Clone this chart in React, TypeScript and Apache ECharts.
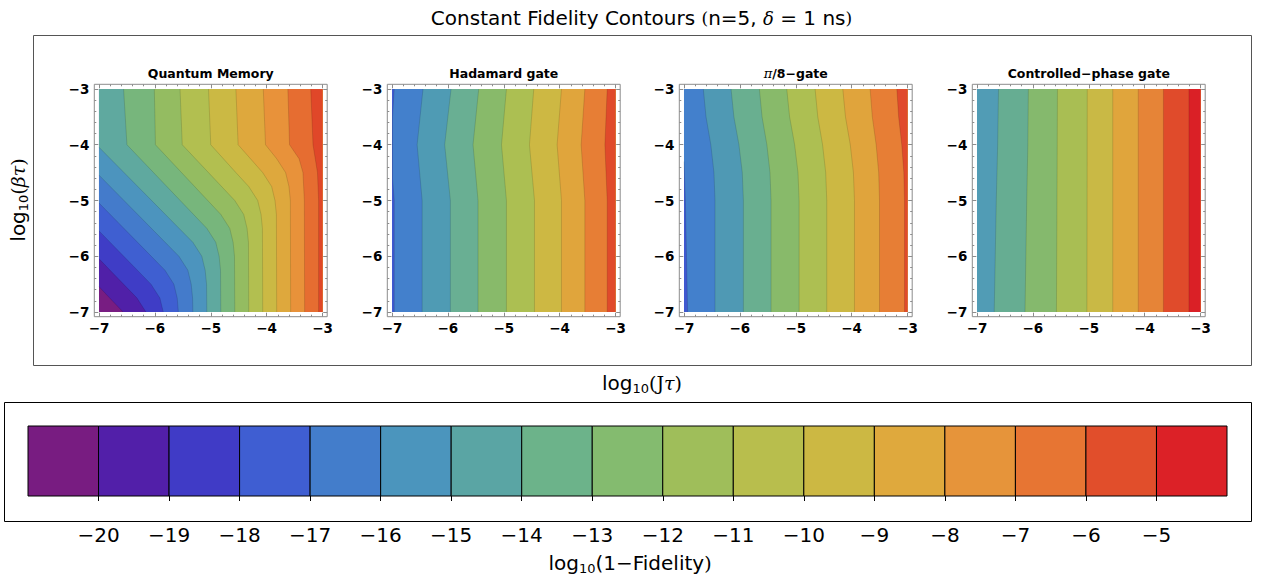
import React, { useEffect, useRef } from "react";
import * as echarts from "echarts";

// ---------- data ----------
const xMajor = [-7, -6, -5, -4, -3];
const xMinor = [-6.8, -6.6, -6.4, -6.2, -5.8, -5.6, -5.4, -5.2, -4.8, -4.6, -4.4, -4.2, -3.8, -3.6, -3.4, -3.2];

const panelTitles = ["Quantum Memory", "Hadamard gate", "π/8−gate", "Controlled−phase gate"];

// contour lines [log10(Jτ), log10(βτ)], ordered from lowest to highest level
const qmLines = [
  [[-7, -6.545], [-6.57, -7]],
  [[-7, -6.045], [-6.32, -6.75], [-6.16, -7]],
  [[-7, -5.545], [-6.07, -6.5], [-5.91, -6.75], [-5.85, -7]],
  [[-7, -5.045], [-5.82, -6.25], [-5.66, -6.5], [-5.6, -6.75], [-5.58, -7]],
  [[-7, -4.545], [-5.57, -6], [-5.41, -6.25], [-5.35, -6.5], [-5.325, -6.75], [-5.32, -7]],
  [[-7, -4.045], [-5.32, -5.75], [-5.16, -6], [-5.1, -6.25], [-5.075, -6.5], [-5.07, -7]],
  [[-6.56, -3], [-6.5, -4], [-5.07, -5.5], [-4.91, -5.75], [-4.85, -6], [-4.825, -6.25], [-4.82, -7]],
  [[-6.01, -3], [-5.99, -4], [-4.82, -5.25], [-4.66, -5.5], [-4.6, -5.75], [-4.575, -6], [-4.57, -7]],
  [[-5.55, -3], [-5.51, -4], [-4.57, -5], [-4.41, -5.25], [-4.35, -5.5], [-4.325, -5.75], [-4.32, -7]],
  [[-5.04, -3], [-5.0, -4], [-4.55, -4.5], [-4.32, -4.75], [-4.16, -5], [-4.1, -5.25], [-4.075, -5.5], [-4.07, -7]],
  [[-4.55, -3], [-4.51, -4], [-4.07, -4.5], [-3.91, -4.75], [-3.85, -5], [-3.825, -5.25], [-3.82, -7]],
  [[-4.06, -3], [-4.02, -4], [-3.82, -4.25], [-3.66, -4.5], [-3.6, -4.75], [-3.575, -5], [-3.57, -7]],
  [[-3.62, -3], [-3.59, -4], [-3.42, -4.25], [-3.35, -4.5], [-3.325, -5], [-3.32, -7]],
  [[-3.21, -3], [-3.17, -4], [-3.09, -4.5], [-3.07, -5], [-3.07, -7]],
];

const hdLines = [
  [[-6.96, -3], [-6.99, -3.5], [-6.99, -4.6], [-6.96, -5], [-6.96, -7]],
  [[-6.445, -3], [-6.55, -4], [-6.46, -5], [-6.46, -7]],
  [[-5.943, -3], [-6.057, -4], [-5.955, -5], [-5.955, -7]],
  [[-5.448, -3], [-5.55, -4], [-5.46, -5], [-5.46, -7]],
  [[-4.952, -3], [-5.04, -4], [-4.952, -5], [-4.952, -7]],
  [[-4.463, -3], [-4.54, -4], [-4.45, -5], [-4.45, -7]],
  [[-3.967, -3], [-4.045, -4], [-3.967, -5], [-3.967, -7]],
  [[-3.549, -3], [-3.615, -4], [-3.549, -5], [-3.549, -7]],
  [[-3.149, -3], [-3.19, -4], [-3.149, -5], [-3.149, -7]],
];

const p8Lines = [
  [[-7, -4.3], [-6.975, -5], [-6.955, -6], [-6.935, -7]],
  [[-6.654, -3], [-6.606, -3.5], [-6.52, -4], [-6.464, -4.5], [-6.445, -5], [-6.445, -7]],
  [[-6.158, -3], [-6.107, -3.5], [-6.017, -4], [-5.957, -4.5], [-5.937, -5], [-5.937, -7]],
  [[-5.651, -3], [-5.603, -3.5], [-5.517, -4], [-5.461, -4.5], [-5.442, -5], [-5.442, -7]],
  [[-5.161, -3], [-5.11, -3.5], [-5.02, -4], [-4.96, -4.5], [-4.94, -5], [-4.94, -7]],
  [[-4.654, -3], [-4.606, -3.5], [-4.52, -4], [-4.464, -4.5], [-4.445, -5], [-4.445, -7]],
  [[-4.158, -3], [-4.11, -3.5], [-4.024, -4], [-3.968, -4.5], [-3.949, -5], [-3.949, -7]],
  [[-3.669, -3], [-3.63, -3.5], [-3.561, -4], [-3.516, -4.5], [-3.501, -5], [-3.501, -7]],
  [[-3.191, -3], [-3.159, -3.5], [-3.103, -4], [-3.066, -4.5], [-3.054, -5], [-3.054, -7]],
];

const cpLines = [
  [[-6.615, -3], [-6.63, -4], [-6.655, -5], [-6.692, -7]],
  [[-6.081, -3], [-6.09, -4], [-6.11, -5], [-6.141, -7]],
  [[-5.56, -3], [-5.578, -7]],
  [[-5.027, -3], [-5.033, -7]],
  [[-4.57, -3], [-4.57, -7]],
  [[-4.114, -3], [-4.114, -7]],
  [[-3.664, -3], [-3.664, -7]],
  [[-3.207, -3], [-3.207, -7]],
];

const legendEdges = [-21, -20, -19, -18, -17, -16, -15, -14, -13, -12, -11, -10, -9, -8, -7, -6, -5, -4];
const legendTicks = [-20, -19, -18, -17, -16, -15, -14, -13, -12, -11, -10, -9, -8, -7, -6, -5];

// ---------- styles ----------
const qmColors = ["#781d82", "#5020a8", "#3f3dc6", "#3f5fd1", "#447bcb", "#4c94be", "#5fa99f", "#77b67c", "#94bc61", "#b2bf50", "#cbb944", "#dea83d", "#e8923a", "#e66d31", "#e04729"];
const hdColors = ["#3f5ad0", "#4380cc", "#4f9bb4", "#69af93", "#88ba6a", "#acbf52", "#cdb843", "#e0a53c", "#e77e35", "#e04a2b"];
const p8Colors = ["#3f58d0", "#4380cc", "#4f99b4", "#69af90", "#88ba6a", "#adbf52", "#ccb843", "#e0a43c", "#e77e35", "#e04a2b"];
const cpColors = ["#519cb5", "#66ad92", "#85b96d", "#a9be53", "#c9b945", "#e0a53c", "#e68437", "#e04b2b", "#da2026"];
const legendColors = ["#781c81", "#521fa9", "#403bc6", "#3f5ed2", "#437dcb", "#4b95bd", "#5aa5a4", "#6cb38a", "#84bb6f", "#9fbe5a", "#b8be4d", "#ccb843", "#dfa93d", "#e6943a", "#e77533", "#e14e2b", "#dc2127"];

const DATA_LEFT = [99, 392, 684, 977];
const DATA_W = 223.5;
const DATA_TOP = 89;
const DATA_H = 223;
const FPAD = 4.7;
const PAD_U = 0.084;
const FRAME = "#8c8c8c";

const fmt = (v: number) => (v < 0 ? "\u2212" : "") + Math.abs(Math.round(v));

function axesFor(g: number, dim: "x" | "y") {
  const pos = dim === "x" ? ["bottom", "top", "bottom", "top"] : ["left", "right", "left", "right"];
  const base = {
    gridIndex: g,
    type: "value",
    min: -7 - PAD_U,
    max: -3 + PAD_U,
    axisLine: { show: false },
    splitLine: { show: false },
  };
  const major = { show: true, inside: true, length: 4, customValues: xMajor, lineStyle: { color: FRAME, width: 1 } };
  const minor = { show: true, inside: true, length: 2, customValues: xMinor, lineStyle: { color: FRAME, width: 1 } };
  return [
    {
      ...base,
      position: pos[0],
      axisTick: major,
      axisLabel: {
        show: true,
        customValues: xMajor,
        formatter: fmt,
        margin: dim === "x" ? 4 : 5,
        fontFamily: "DejaVu Sans",
        fontWeight: "bold",
        fontSize: 13.5,
        color: "#000",
      },
    },
    { ...base, position: pos[1], axisTick: major, axisLabel: { show: false } },
    { ...base, position: pos[2], axisTick: minor, axisLabel: { show: false } },
    { ...base, position: pos[3], axisTick: minor, axisLabel: { show: false } },
  ];
}

function contourSeries(g: number, lines: number[][][], colors: string[]) {
  const data = [[0, 0]].concat(lines.map((_, i) => [i + 1, 0]));
  return {
    type: "custom",
    coordinateSystem: "cartesian2d",
    xAxisIndex: g * 4,
    yAxisIndex: g * 4,
    silent: true,
    clip: false,
    data,
    renderItem: (params: any, api: any) => {
      const i = params.dataIndex - 1;
      if (i < 0) {
        const pts = [[-7, -7], [-3, -7], [-3, -3], [-7, -3]].map((p) => api.coord(p));
        return { type: "polygon", shape: { points: pts }, style: { fill: colors[0] } };
      }
      const line = lines[i];
      const closed = line.concat([[-3, -7], [-3, -3], [-7, -3]]).map((p) => api.coord(p));
      return {
        type: "group",
        children: [
          { type: "polygon", shape: { points: closed }, style: { fill: colors[i + 1] } },
          {
            type: "polyline",
            shape: { points: line.map((p) => api.coord(p)) },
            style: { fill: "none", stroke: "rgba(0,0,0,0.16)", lineWidth: 0.8 },
          },
        ],
      };
    },
  };
}

const sansStyle = { fontFamily: "DejaVu Sans", fontSize: 20, fill: "#000" };
const subStyle = { fontFamily: "DejaVu Sans", fontSize: 13, fill: "#000", padding: [11, 0, 0, 0] };
const serifStyle = { fontFamily: "DejaVu Serif", fontSize: 19, fill: "#000" };
const serifItalic = { fontFamily: "DejaVu Serif", fontStyle: "italic", fontSize: 19, fill: "#000" };

function textEl(x: number, y: number, text: string, rich: any, rotation = 0) {
  return {
    type: "text",
    x,
    y,
    rotation,
    silent: true,
    style: { text, rich, align: "center", verticalAlign: "middle", textAlign: "center", textVerticalAlign: "middle" },
  };
}

export default function App() {
  const ref = useRef<HTMLDivElement>(null);
  useEffect(() => {
    if (!ref.current) return;
    const chart = echarts.init(ref.current, null, { renderer: "svg" });

    const grids: any[] = DATA_LEFT.map((l) => ({
      left: l - FPAD,
      top: DATA_TOP - FPAD,
      width: DATA_W + 2 * FPAD,
      height: DATA_H + 2 * FPAD,
      show: true,
      borderColor: FRAME,
      borderWidth: 1,
      backgroundColor: "#fff",
      containLabel: false,
      outerBoundsMode: "none",
    }));
    grids.push({ left: 28, top: 426, width: 1199, height: 70, show: false, containLabel: false, outerBoundsMode: "none" });

    const xAxes: any[] = [];
    const yAxes: any[] = [];
    for (let g = 0; g < 4; g++) {
      xAxes.push(...axesFor(g, "x"));
      yAxes.push(...axesFor(g, "y"));
    }
    xAxes.push({
      gridIndex: 4,
      type: "value",
      min: -21,
      max: -4,
      position: "bottom",
      offset: 25,
      axisLine: { show: false },
      splitLine: { show: false },
      axisTick: { show: true, inside: false, length: 5, customValues: legendTicks, lineStyle: { color: "#000", width: 1 } },
      axisLabel: { show: true, customValues: legendTicks, formatter: fmt, margin: 4, fontFamily: "DejaVu Sans", fontSize: 20, color: "#000" },
    });
    yAxes.push({ gridIndex: 4, type: "value", min: 0, max: 1, show: false });

    const legendSeries = {
      type: "custom",
      coordinateSystem: "cartesian2d",
      xAxisIndex: 16,
      yAxisIndex: 16,
      silent: true,
      data: legendColors.map((_, i) => [legendEdges[i], i]),
      renderItem: (params: any, api: any) => {
        const i = params.dataIndex;
        const p0 = api.coord([legendEdges[i], 1]);
        const p1 = api.coord([legendEdges[i + 1], 0]);
        return {
          type: "rect",
          shape: { x: p0[0], y: p0[1], width: p1[0] - p0[0], height: p1[1] - p0[1] },
          style: { fill: legendColors[i], stroke: "#000", lineWidth: 1 },
        };
      },
    };

    const titleRich = {
      a: sansStyle,
      p: { fontFamily: "DejaVu Serif", fontSize: 17, fill: "#000" },
      d: { fontFamily: "DejaVu Serif", fontStyle: "italic", fontSize: 18, fill: "#000" },
    };
    const labelRich = { a: sansStyle, s: subStyle, p: serifStyle, t: serifItalic };
    const panelRich = {
      b: { fontFamily: "DejaVu Sans", fontWeight: "bold", fontSize: 12.5, fill: "#000" },
      i: { fontFamily: "DejaVu Serif", fontStyle: "italic", fontSize: 13, fill: "#000" },
    };

    const graphic: any[] = [
      { type: "rect", silent: true, shape: { x: 33.5, y: 35.5, width: 1218, height: 330 }, style: { fill: "none", stroke: "#555", lineWidth: 1 } },
      { type: "rect", silent: true, shape: { x: 4.5, y: 402.5, width: 1247, height: 119 }, style: { fill: "none", stroke: "#000", lineWidth: 1 } },
      textEl(641.5, 18, "{a|Constant Fidelity Contours }{p|(}{a|n=5, }{d|δ}{a| = 1 ns}{p|)}", titleRich),
      textEl(642, 383, "{a|log}{s|10}{p|(J}{t|τ}{p|)}", labelRich),
      textEl(18, 200, "{a|log}{s|10}{p|(}{t|βτ}{p|)}", labelRich, Math.PI / 2),
      textEl(630, 563, "{a|log}{s|10}{a|(1−Fidelity}{p|)}", labelRich),
    ];
    panelTitles.forEach((t, g) => {
      const txt = t.startsWith("π") ? "{i|π}{b|" + t.slice(1) + "}" : "{b|" + t + "}";
      graphic.push(textEl(DATA_LEFT[g] + DATA_W / 2, 73, txt, panelRich));
    });

    chart.setOption({
      animation: false,
      grid: grids,
      xAxis: xAxes,
      yAxis: yAxes,
      series: [
        contourSeries(0, qmLines, qmColors),
        contourSeries(1, hdLines, hdColors),
        contourSeries(2, p8Lines, p8Colors),
        contourSeries(3, cpLines, cpColors),
        legendSeries,
      ],
      graphic,
    });
    return () => chart.dispose();
  }, []);
  return <div ref={ref} style={{ position: "absolute", left: 0, top: 0, width: 1261, height: 581 }} />;
}
